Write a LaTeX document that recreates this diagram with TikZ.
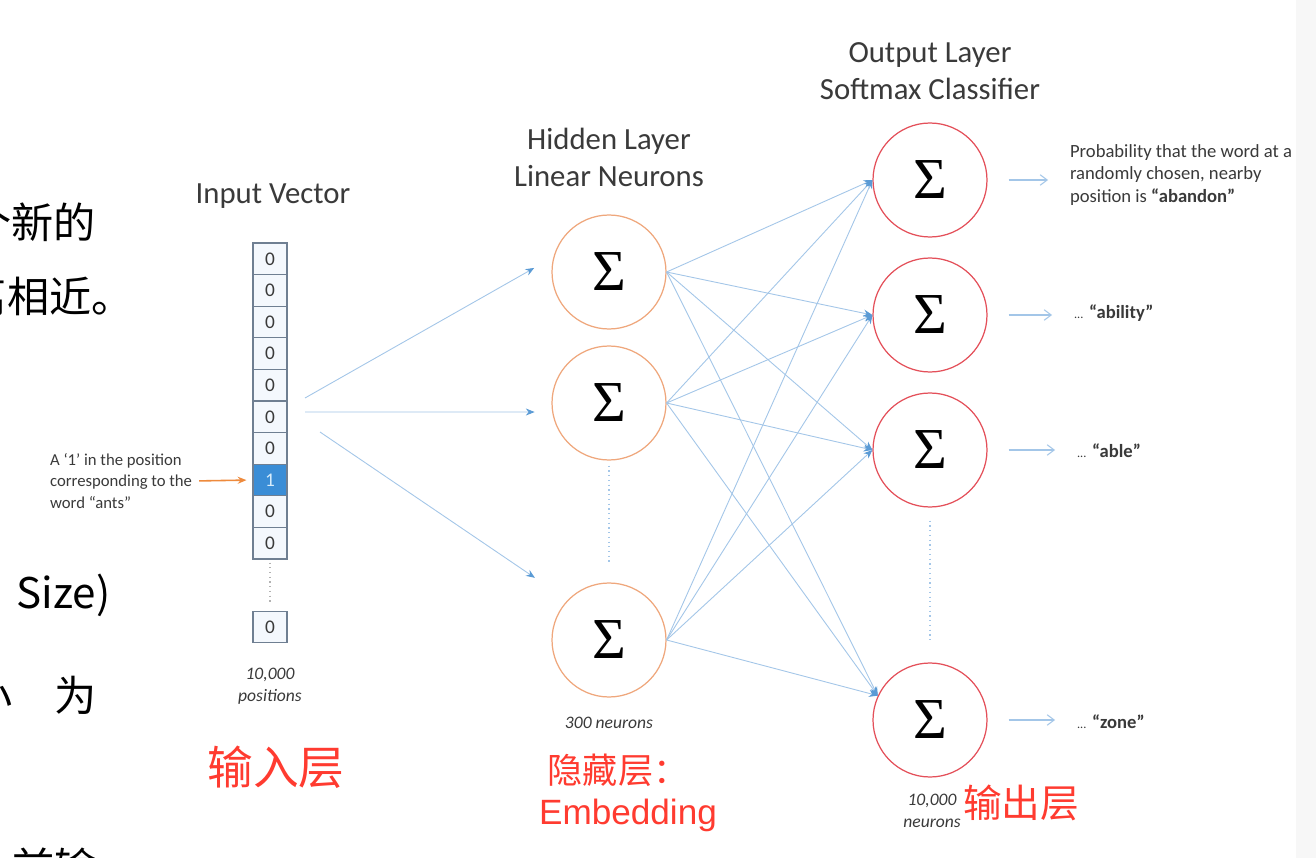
\documentclass[tikz,border=0pt]{standalone}
\usepackage[no-math]{fontspec}
\setmainfont{Carlito}
\newfontfamily\cjk{Noto Sans CJK SC}
\newfontfamily\sigmafont{Liberation Serif}
\newfontfamily\embedfont{Liberation Sans}
\usetikzlibrary{arrows.meta, positioning, calc}

\definecolor{wireblue}{HTML}{A3C6E8}
\definecolor{tipblue}{HTML}{5B9BD5}
\definecolor{hidorange}{HTML}{EFA77C}
\definecolor{outred}{HTML}{E4505A}
\definecolor{cellgray}{HTML}{6F7F92}
\definecolor{cellfill}{HTML}{F4F8FD}
\definecolor{hotblue}{HTML}{3A8DD6}
\definecolor{hottext}{HTML}{D6ECFB}
\definecolor{antsorange}{HTML}{EE8A3C}
\definecolor{notered}{HTML}{FF3B30}
\definecolor{textgray}{HTML}{3A3A3A}

\begin{document}
\begin{tikzpicture}[
    x=0.02cm, y=-0.02cm,
    cell/.style={rectangle, draw=cellgray, fill=cellfill, line width=0.6pt, minimum width=0.68cm, minimum height=0.632cm, inner sep=0pt, font=\fontsize{11}{11}\selectfont, text=textgray},
    hotcell/.style={fill=hotblue, text=hottext},
    hidden/.style={circle, draw=hidorange, line width=0.7pt, minimum size=2.28cm, inner sep=0pt, font=\sigmafont\fontsize{33}{33}\selectfont},
    output/.style={hidden, draw=outred},
    title/.style={align=center, font=\fontsize{17.5}{21}\selectfont, text=textgray},
    note/.style={align=left, font=\fontsize{9.5}{12}\selectfont, text=textgray, inner sep=1pt},
    prob/.style={align=left, font=\fontsize{10.6}{13}\selectfont, text=textgray, inner sep=1pt},
    count/.style={align=center, font=\fontsize{10}{12.5}\selectfont\itshape, text=textgray},
    wire/.style={draw=wireblue, line width=0.5pt, -{Stealth[length=5pt, width=4pt, color=tipblue]}},
    outwire/.style={draw=wireblue, line width=0.6pt, -{Straight Barb[length=4pt, width=6pt]}},
    dots/.style={draw=wireblue, line width=0.7pt, dotted},
    layername/.style={text=notered, font=\cjk\fontsize{20}{24}\selectfont, inner sep=0pt},
    bgtext/.style={text=black, font=\cjk\fontsize{24}{28}\selectfont, inner sep=0pt}
]
    % Page
    \fill[white] (0,0) rectangle (1316,858);
    \fill[gray!6] (1296,0) rectangle (1316,858);
    \useasboundingbox (0,0) rectangle (1316,858);

    % Cut-off text of the page behind
    \node[bgtext, anchor=east] (frag1) at (96,222) {个新的};
    \node[bgtext, anchor=east] (frag2) at (134,296) {离相近。};
    \node[bgtext, anchor=west] (frag3) at (16,595) {Size)};
    \node[bgtext, anchor=east] (frag4) at (97,696) {小　为};
    \node[bgtext, anchor=east] (frag5) at (97,867) {前输};

    % Input vector
    \node[title] (intitle) at (273,196) {Input Vector};
    \foreach \i in {1,...,7,9,10}
        \node[cell] (c\i) at (270,{258.8+31.6*(\i-1)}) {0};
    \node[cell, hotcell] (c8) at (270,480) {1};
    \node[cell] (clast) at (270,627) {0};
    \draw[dots, draw=gray!60] ([yshift=-0.06cm]c10.south) -- ([yshift=0.12cm]clast.north);
    \node[count] (incount) at (270,686) {10,000\\positions};
    \node[note, anchor=west] (antsnote) at (48,481) {A ‘1’ in the position\\corresponding to the\\word “ants”};
    \draw[antsorange, line width=0.9pt, -{Stealth[length=5pt, width=4pt]}, shorten <=0.1cm, shorten >=0.12cm] (antsnote.east) -- (c8.west);

    % Hidden layer
    \node[title] (hidtitle) at (609,157) {Hidden Layer\\Linear Neurons};
    \node[hidden] (h1) at (609,272) {Σ};
    \node[hidden] (h2) at (609,403) {Σ};
    \node[hidden] (h3) at (609,640) {Σ};
    \draw[dots] ([yshift=-0.1cm]h2.south) -- ([yshift=0.36cm]h3.north);
    \node[count] (hidcount) at (609,723) {300 neurons};

    % Output layer
    \node[title] (outtitle) at (930,71) {Output Layer\\Softmax Classifier};
    \node[output] (o1) at (930,180) {Σ};
    \node[output] (o2) at (930,315) {Σ};
    \node[output] (o3) at (930,450) {Σ};
    \node[output] (o4) at (930,720) {Σ};
    \draw[dots] ([yshift=-0.26cm]o3.south) -- ([yshift=0.46cm]o4.north);
    \node[count] (outcount) at (932,811) {10,000\\neurons};

    % Input to hidden
    \coordinate (src1) at (305,398);
    \coordinate (src2) at (305,412);
    \coordinate (src3) at (320,432);
    \draw[wire, shorten >=0.44cm] (src1) -- (h1.165);
    \draw[wire, shorten >=0.35cm] (src2) -- (h2.189);
    \draw[wire, shorten >=0.79cm] (src3) -- (h3.136);

    % Hidden to output
    \foreach \i in {1,2,3}
        \foreach \j/\a in {1/180,2/180,3/180,4/155}
            \draw[wire] (h\i.east) -- (o\j.\a);

    % Softmax outputs
    \node[prob, anchor=west] (t1) at (1068,175) {Probability that the word at a\\randomly chosen, nearby\\position is \textbf{“abandon”}};
    \node[prob, anchor=west] (t2) at (1072,313) {{\scriptsize...} \textbf{“ability”}};
    \node[prob, anchor=west] (t3) at (1075,451) {{\scriptsize...} \textbf{“able”}};
    \node[prob, anchor=west] (t4) at (1075,722) {{\scriptsize...} \textbf{“zone”}};
    \foreach \j in {1,...,4}
        \draw[outwire, shorten <=0.42cm, shorten >=0.4cm] (o\j.east) -- (o\j.east -| t\j.west);

    % Layer names
    \node[layername, font=\cjk\fontsize{26}{30}\selectfont] (inname) at (276,767) {输入层};
    \node[layername] (hidname) at (618,770) {隐藏层：};
    \node[layername, font=\embedfont\fontsize{20}{24}\selectfont] (embname) at (628,815) {Embedding};
    \node[layername, font=\cjk\fontsize{22}{26}\selectfont] (outname) at (1021,803) {输出层};
\end{tikzpicture}
\end{document}
